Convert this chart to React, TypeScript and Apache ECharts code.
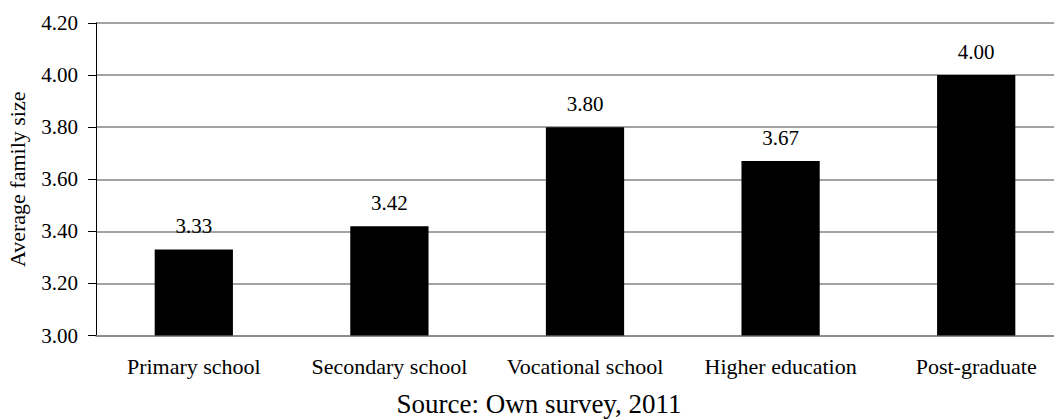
import React, { useEffect, useRef } from "react";
import * as echarts from "echarts";

const categories = [
  "Primary school",
  "Secondary school",
  "Vocational school",
  "Higher education",
  "Post-graduate",
];
const familySize = [3.33, 3.42, 3.8, 3.67, 4.0];
const yTicks = { min: 3.0, max: 4.2, step: 0.2 };
const sourceNote = "Source: Own survey, 2011";

const SERIF = '"Liberation Serif", "Times New Roman", serif';
const GRID_GRAY = "#858585";

export default function App() {
  const ref = useRef<HTMLDivElement>(null);

  useEffect(() => {
    if (!ref.current) return;
    const chart = echarts.init(ref.current, undefined, { renderer: "svg" });
    chart.setOption({
      animation: false,
      backgroundColor: "#ffffff",
      textStyle: { fontFamily: SERIF, color: "#000" },
      // plot runs past the right edge of the canvas, so the last column is clipped
      grid: {
        left: 96,
        width: 978,
        top: 23,
        bottom: 83.5,
        containLabel: false,
        outerBoundsMode: "none",
      },
      xAxis: {
        type: "category",
        data: categories,
        axisLine: { show: true, lineStyle: { color: GRID_GRAY, width: 1.5 } },
        axisTick: { show: false },
        axisLabel: {
          margin: 20,
          fontSize: 22,
          fontFamily: SERIF,
          color: "#000",
          interval: 0,
        },
      },
      yAxis: {
        type: "value",
        min: yTicks.min,
        max: yTicks.max,
        interval: yTicks.step,
        name: "Average family size",
        nameLocation: "middle",
        nameGap: 68,
        nameRotate: 90,
        nameTextStyle: { fontSize: 22, fontFamily: SERIF, color: "#000" },
        axisLine: { show: true, lineStyle: { color: "#000", width: 1 } },
        axisTick: { show: true, length: 8, lineStyle: { color: "#000", width: 1 } },
        axisLabel: {
          margin: 18,
          fontSize: 21,
          fontFamily: SERIF,
          color: "#000",
          formatter: (v: number) => v.toFixed(2),
        },
        splitLine: { show: true, lineStyle: { color: GRID_GRAY, width: 1.5 } },
      },
      series: [
        {
          type: "bar",
          data: familySize,
          barWidth: "40%",
          itemStyle: { color: "#000" },
          label: {
            show: true,
            position: "top",
            distance: 13,
            fontSize: 21,
            fontFamily: SERIF,
            color: "#000",
            formatter: (p: any) => Number(p.value).toFixed(2),
          },
        },
      ],
      graphic: [
        {
          type: "text",
          x: 539,
          y: 404,
          style: {
            text: sourceNote,
            fontSize: 27,
            fontFamily: SERIF,
            fill: "#000",
            align: "center",
            verticalAlign: "middle",
          },
        },
      ],
    });
    return () => chart.dispose();
  }, []);

  return (
    <div
      ref={ref}
      style={{ position: "absolute", left: 0, top: 0, width: 1054, height: 419 }}
    />
  );
}
